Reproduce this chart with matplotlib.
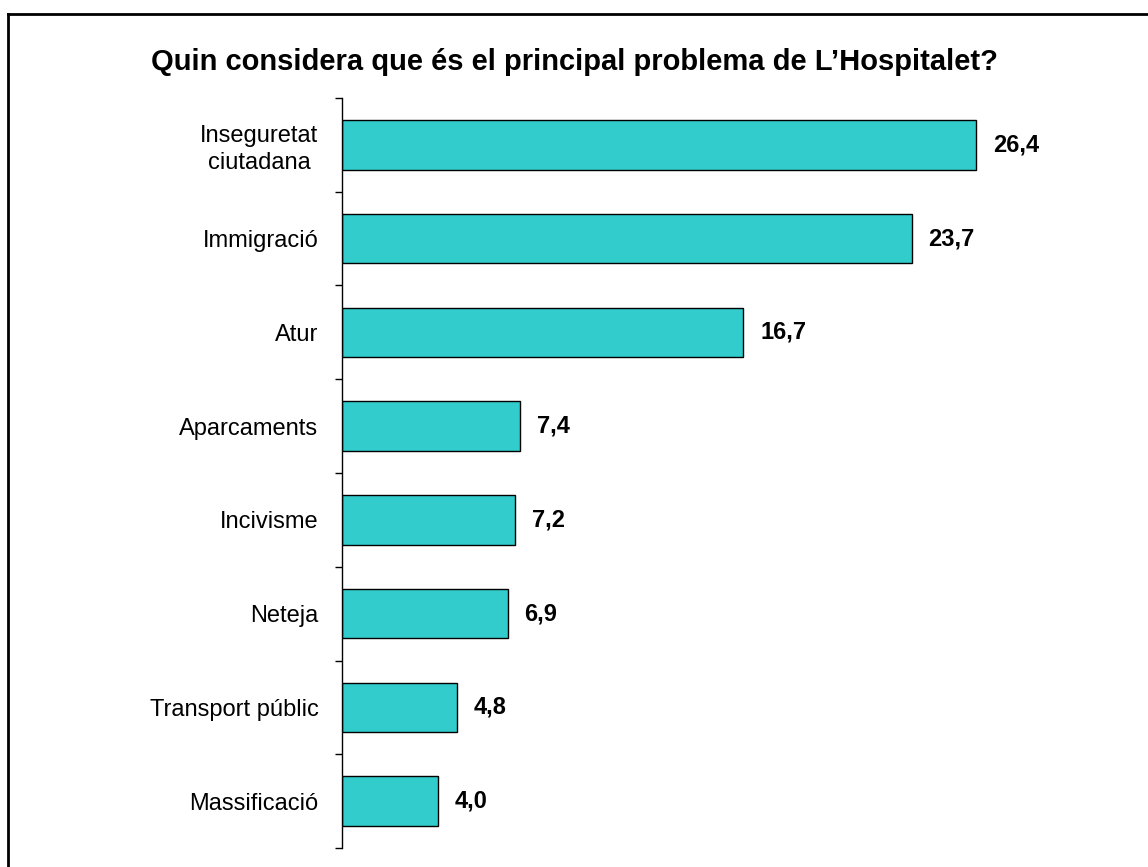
import matplotlib.pyplot as plt
from matplotlib.lines import Line2D
import numpy as np

# Survey data
categories = ['Inseguretat\nciutadana', 'Immigració', 'Atur', 'Aparcaments',
              'Incivisme', 'Neteja', 'Transport públic', 'Massificació']
values = [26.4, 23.7, 16.7, 7.4, 7.2, 6.9, 4.8, 4.0]

plt.rcParams['font.family'] = ['Liberation Sans', 'DejaVu Sans']

W, H = 1148, 867
fig = plt.figure(figsize=(W / 100, H / 100), dpi=100)
ax = fig.add_axes([342 / W, (H - 848) / H, 721 / W, 750 / H])

y = np.arange(len(categories))
ax.barh(y, values, height=0.53, color='#33CCCC', edgecolor='black', linewidth=1)

for yi, v in zip(y, values):
    ax.annotate(f'{v:.1f}'.replace('.', ','), (v, yi), xytext=(12, 0),
                textcoords='offset points', va='center', ha='left',
                fontsize=17, fontweight='bold')

ax.set_xlim(0, 30)
ax.set_ylim(len(categories) - 0.5, -0.5)
ax.set_yticks(y)
ax.set_yticklabels(categories, fontsize=17, multialignment='center', linespacing=1.3)
ax.tick_params(axis='y', which='major', length=0, pad=17)
ax.set_yticks(np.arange(len(categories) + 1) - 0.5, minor=True)
ax.tick_params(axis='y', which='minor', length=5, width=1, direction='out')
ax.set_xticks([])
for side in ['top', 'right', 'bottom']:
    ax.spines[side].set_visible(False)
ax.spines['left'].set_linewidth(1)

fig.text(0.5, 1 - 62 / H, 'Quin considera que és el principal problema de L\u2019Hospitalet?',
         ha='center', va='center', fontsize=21, fontweight='bold')

# outer frame (top and left edges)
fx, fy = 7.5 / W, 1 - 13.5 / H
fig.add_artist(Line2D([fx, 1], [fy, fy], transform=fig.transFigure, color='black', linewidth=2))
fig.add_artist(Line2D([fx, fx], [0, fy], transform=fig.transFigure, color='black', linewidth=2))

fig.savefig('out.png', dpi=100)
